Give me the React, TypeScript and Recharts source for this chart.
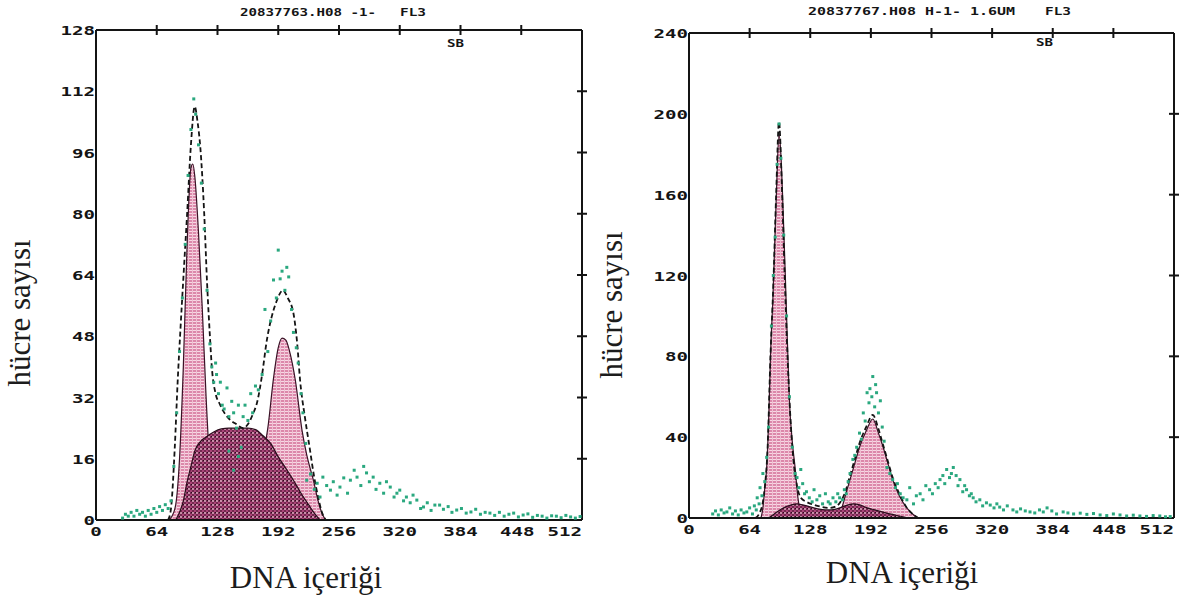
import { ComposedChart, Area, Line, Scatter, XAxis, YAxis } from "recharts";

// [channel, count] pairs
type Pt = [number, number];

const CHANNEL_TICKS = [0, 64, 128, 192, 256, 320, 384, 448, 512];
const LEFT_COUNT_TICKS = [0, 16, 32, 48, 64, 80, 96, 112, 128];
const RIGHT_COUNT_TICKS = [0, 40, 80, 120, 160, 200, 240];

const leftTitle = "20837763.H08 -1-";
const rightTitle = "20837767.H08 H-1- 1.6UM";
const yTitle = "hücre sayısı";
const xTitle = "DNA içeriği";

// ---- left panel (control) ----
const leftG1: Pt[] = [
	[76, 0], [80, 1], [84, 4], [88, 16], [92, 40], [96, 72], [100, 92], [102, 93],
	[104, 90], [108, 75], [112, 55], [116, 32], [120, 14], [124, 4], [128, 0],
];
const leftS: Pt[] = [
	[84, 0], [88, 2], [92, 5], [96, 10], [100, 14], [104, 18], [110, 20.5], [116, 21.7],
	[124, 23], [132, 23.8], [140, 24], [150, 24], [160, 24], [168, 23.6], [176, 22],
	[184, 20], [192, 16.5], [200, 13.5], [208, 10.4], [216, 7], [224, 4], [230, 1.8], [236, 0],
];
const leftG2: Pt[] = [
	[146, 0], [152, 1], [158, 3], [164, 6], [170, 11], [176, 17], [181, 24], [187, 37],
	[192, 45], [196, 47.5], [200, 47], [204, 44], [210, 36.5], [217, 23.5], [222, 17],
	[229, 10.4], [234, 5], [238, 1.8], [242, 0],
];
const leftFit: Pt[] = [
	[76, 0], [79, 3], [83, 19], [86, 36], [89, 50], [92, 63], [96, 80], [100, 98], [104, 108],
	[107, 104], [110, 97], [114, 80], [117, 62], [120, 48], [122, 40], [126, 33], [130, 30.5],
	[134, 28.5], [140, 26.5], [148, 25], [155, 24], [160, 25], [165, 27.5], [170, 31], [175, 38],
	[180, 47], [185, 53], [190, 57], [197, 60], [202, 58], [208, 54], [212, 46], [215, 36.5],
	[220, 27], [225, 19], [230, 11], [234, 6], [238, 2], [242, 0],
];
const leftDots: Pt[] = [
	[28, 0.5], [31, 1.5], [34, 1], [37, 2], [40, 1], [43, 2.5], [46, 1.5], [49, 2], [52, 1],
	[55, 2.5], [58, 1.5], [61, 3], [64, 2], [67, 3.5], [70, 2.5], [73, 4], [76, 3], [79, 5],
	[82, 14], [85, 28], [88, 44], [91, 58], [94, 72], [97, 90], [100, 102], [103, 110],
	[105, 106], [108, 98], [111, 88], [114, 76], [117, 60], [120, 46], [122, 40],
	[124, 36], [126, 41], [127, 38], [129, 33], [131, 36], [133, 30], [135, 29], [138, 34.5],
	[140, 27], [143, 31], [145, 28], [148, 24], [150, 30], [153, 19], [155, 27], [157, 30],
	[160, 26], [163, 33], [165, 28], [168, 35], [171, 34], [175, 38], [178, 55], [181, 44],
	[184, 52], [187, 62.7], [190, 58], [192, 70.5], [194, 63], [196, 65], [199, 60], [201, 66],
	[203, 63.5], [206, 55], [208, 49], [211, 45], [213, 41], [216, 33], [218, 28], [221, 20],
	[140, 18], [150, 16.6], [145, 13],
	[222, 10.4], [226, 12], [230, 8], [233, 9.6], [236, 6], [239, 11.2], [243, 9], [247, 7.8],
	[250, 10], [254, 6.5], [257, 8.6], [261, 11], [265, 7], [268, 10.4], [272, 13], [275, 11.2],
	[279, 9], [282, 14], [285, 12.3], [288, 10], [292, 11.2], [295, 8], [299, 9.6], [303, 7],
	[306, 10], [310, 8.6], [314, 6], [317, 7], [320, 7.8], [324, 5], [327, 6], [331, 4.5],
	[334, 6.5], [338, 5.2], [342, 3], [345, 3.4], [349, 4.5], [353, 2.5], [357, 3.9], [362, 3.9],
	[366, 2.8], [371, 3.5], [375, 2], [380, 2.6], [385, 3], [390, 1.8], [395, 2.1], [400, 2.8],
	[405, 1.5], [410, 2], [415, 1.8], [420, 1.2], [425, 2], [430, 1], [435, 1.5], [440, 1.8],
	[445, 0.8], [450, 1.3], [455, 1.6], [460, 0.7], [465, 1.2], [470, 1], [475, 0.5], [480, 1.1],
	[485, 1], [490, 0.6], [495, 1.2], [500, 0.8], [505, 0.5], [510, 0.9],
];

// ---- right panel (treated) ----
const rightG1: Pt[] = [
	[76, 0], [78, 5], [80, 15], [82, 25], [84.5, 55], [86, 80], [88.5, 108], [92, 157],
	[95, 190], [97, 180], [99, 157], [102.5, 108], [106, 58], [109, 38], [112, 25], [115, 10],
	[118, 2], [120, 0],
];
const rightS: Pt[] = [
	[84, 0], [90, 2], [96, 4], [102, 5.5], [108, 6.5], [114, 7], [120, 6.5], [128, 5.5],
	[136, 4.5], [144, 4], [150, 4], [156, 4.5], [162, 5.5], [168, 6.5], [174, 7], [180, 6.5],
	[188, 5], [196, 4], [204, 3], [212, 2], [222, 1], [232, 0],
];
const rightG2: Pt[] = [
	[156, 0], [160, 3], [165, 11], [170, 19], [175, 27], [180, 35], [187, 43], [194, 49],
	[200, 42], [205, 35], [210, 27], [215, 19], [222, 11], [230, 5], [236, 2], [242, 0],
];
const rightFit: Pt[] = [
	[70, 0], [74, 2], [78, 8], [80, 15], [83, 35], [86, 80], [89, 115], [92, 160], [95, 196],
	[98, 165], [101, 120], [104, 80], [107, 50], [110, 30], [114, 16], [118, 10], [124, 8],
	[132, 6.5], [140, 5.5], [148, 5], [154, 5.5], [160, 8], [165, 13], [170, 21], [175, 29],
	[180, 37], [187, 45], [194, 51], [200, 44], [205, 36], [210, 28], [215, 20], [222, 12],
	[230, 5], [236, 2], [242, 0],
];
const rightDots: Pt[] = [
	[25, 2], [28, 3.5], [31, 1.5], [34, 4], [37, 2.5], [40, 3], [43, 5], [46, 2], [49, 3.5],
	[52, 1.5], [55, 4], [58, 2.5], [61, 3], [64, 5], [67, 2], [69, 6], [71, 4], [72, 10],
	[74, 7], [75, 15], [77, 11], [78, 22], [80, 18],
	[82, 30], [84, 45], [87, 95], [89, 120], [91, 139], [93, 175], [95, 195], [97, 178],
	[100, 140], [103, 100], [106, 60], [109, 35], [112, 22], [114, 20], [116, 15], [118, 24],
	[120, 17], [122, 12], [124, 13],
	[127, 10], [130, 8], [132, 14], [135, 9], [138, 11], [141, 7], [144, 12], [147, 8], [149, 7],
	[152, 10], [155, 8], [157, 12], [159, 10], [162, 9], [164, 14], [166, 12], [168, 18],
	[170, 22], [173, 29], [175, 31], [177, 35], [180, 42], [182, 39], [184, 52], [186, 48],
	[188, 62], [190, 57], [191, 64], [193, 60], [194, 70], [196, 55], [197, 66], [198, 62],
	[200, 52], [202, 58], [204, 45], [206, 38], [209, 25], [212, 22], [215, 19], [218, 15],
	[220, 17], [223, 12], [226, 10], [230, 9], [233, 15], [237, 7], [240, 11], [244, 12],
	[247, 9], [250, 16], [254, 14], [257, 12], [260, 17], [263, 15], [265, 19], [268, 21],
	[270, 17], [272, 24], [275, 20], [277, 22], [279, 25], [282, 21], [284, 16], [286, 19],
	[289, 13], [291, 16], [293, 14], [296, 11], [298, 12], [300, 10], [303, 8], [307, 9],
	[310, 6], [314, 7.5], [318, 6.4], [322, 5], [325, 7], [328, 5.4], [332, 4], [336, 6],
	[342, 4], [346, 3], [350, 4.5], [355, 3.5], [360, 3], [365, 2.5], [370, 4], [374, 3],
	[378, 5], [383, 3.5], [388, 2], [395, 3], [400, 2.5], [406, 2], [413, 2.4], [420, 1.8],
	[427, 2.2], [434, 1.5], [441, 1.2], [448, 2], [455, 1.5], [462, 1], [469, 1.4], [476, 1],
	[483, 0.8], [490, 1.2], [497, 1], [503, 0.6], [508, 0.7],
];

// ---------------------------------------------------------------------------

const MONO = "'DejaVu Sans Mono', monospace";
const SERIF = "'Liberation Serif', 'DejaVu Serif', serif";
const INK = "#141414";
const DOT = "#2aa87f";

const toRows = (pts: Pt[]) => pts.map(([ch, v]) => ({ ch, v }));

function CountTick({ x, y, payload }: any) {
	const s = String(payload.value);
	return (
		<text x={x} y={y} dy={5} textAnchor="end" fontFamily={MONO} fontWeight="bold" fontSize={13}
			fill={INK} textLength={s.length * 11.5} lengthAdjust="spacingAndGlyphs">
			{s}
		</text>
	);
}

function ChannelTick({ x, y, payload }: any) {
	const v = payload.value;
	const s = String(v);
	let anchor: "middle" | "end" = "middle";
	let px = x;
	if (v === 512) anchor = "end";
	if (v === 448) px = x - 4;
	return (
		<text x={px} y={y} dy={16} textAnchor={anchor} fontFamily={MONO} fontWeight="bold" fontSize={13}
			fill={INK} textLength={s.length * 11.5} lengthAdjust="spacingAndGlyphs">
			{s}
		</text>
	);
}

// short marks that cross the frame line (top and right axes)
function TopTick({ x, y, payload }: any) {
	if (payload.value === 0 || payload.value === 512) return <g />;
	return <rect x={x - 1} y={y - 5} width={2} height={10} fill={INK} />;
}

function RightTick({ x, y, payload, maxValue }: any) {
	if (payload.value === 0 || payload.value === maxValue) return <g />;
	return <rect x={x - 5} y={y - 1} width={10} height={2} fill={INK} />;
}

function DotShape({ cx, cy }: any) {
	return <rect x={cx - 1.5} y={cy - 1.5} width={3} height={3} fill={DOT} />;
}

interface PanelProps {
	id: string;
	width: number;
	height: number;
	margin: { top: number; right: number; left: number; bottom: number };
	maxCount: number;
	countTicks: number[];
	g1: Pt[];
	s: Pt[];
	g2: Pt[];
	fit: Pt[];
	dots: Pt[];
}

function Panel({ id, width, height, margin, maxCount, countTicks, g1, s, g2, fit, dots }: PanelProps) {
	const axisLine = { stroke: INK, strokeWidth: 2 };
	return (
		<ComposedChart width={width} height={height} margin={margin}>
			<defs>
				<pattern id={`${id}-pink`} width={4} height={3} patternUnits="userSpaceOnUse">
					<rect width={4} height={3} fill="#dc88aa" />
					<line x1={0} x2={4} y1={0.5} y2={0.5} stroke="#f7d8e4" strokeWidth={1} />
					<line x1={0.5} x2={0.5} y1={0} y2={3} stroke="#efc0d2" strokeWidth={1} />
				</pattern>
				<pattern id={`${id}-dark`} width={4} height={4} patternUnits="userSpaceOnUse">
					<rect width={4} height={4} fill="#74284f" />
					<circle cx={1} cy={1} r={0.9} fill="#f0bfd2" />
					<circle cx={3} cy={3} r={0.9} fill="#c4508a" />
					<rect x={3} y={0} width={1} height={1} fill="#2b0d1c" />
				</pattern>
			</defs>
			<XAxis type="number" dataKey="ch" domain={[0, 512]} ticks={CHANNEL_TICKS} interval={0}
				height={30} tickSize={0} tickMargin={0} tickLine={false} axisLine={axisLine} tick={<ChannelTick />} />
			<XAxis xAxisId="top" orientation="top" type="number" dataKey="ch" domain={[0, 512]}
				ticks={CHANNEL_TICKS} interval={0} height={1} tickSize={0} tickMargin={0} tickLine={false}
				axisLine={axisLine} tick={<TopTick />} />
			<YAxis type="number" domain={[0, maxCount]} ticks={countTicks} interval={0} width={40}
				tickSize={0} tickMargin={1} tickLine={false} axisLine={axisLine} tick={<CountTick />} />
			<YAxis yAxisId="r" orientation="right" type="number" domain={[0, maxCount]} ticks={countTicks}
				interval={0} width={1} tickSize={0} tickMargin={0} tickLine={false} axisLine={axisLine}
				tick={<RightTick maxValue={maxCount} />} />
			<Area data={toRows(g1)} dataKey="v" type="monotone" fill={`url(#${id}-pink)`} fillOpacity={1}
				stroke="#3a1226" strokeWidth={1.2} isAnimationActive={false} />
			<Area data={toRows(g2)} dataKey="v" type="monotone" fill={`url(#${id}-pink)`} fillOpacity={1}
				stroke="#3a1226" strokeWidth={1.2} isAnimationActive={false} />
			<Area data={toRows(s)} dataKey="v" type="monotone" fill={`url(#${id}-dark)`} fillOpacity={1}
				stroke="#2b0d1c" strokeWidth={1.2} isAnimationActive={false} />
			{/* the fit is drawn against the top/right frame axes (same domains) so they get ticks */}
			<Line data={toRows(fit)} dataKey="v" xAxisId="top" yAxisId="r" type="monotone" stroke={INK}
				strokeWidth={1.8} strokeDasharray="5 3" dot={false} activeDot={false} isAnimationActive={false} />
			<Scatter data={toRows(dots)} dataKey="v" shape={<DotShape />} isAnimationActive={false} />
		</ComposedChart>
	);
}

export default function App() {
	const headStyle = { fontFamily: MONO, fontWeight: "bold" as const, fontSize: 11, fill: INK };
	const axisTitle = { fontFamily: SERIF, fontSize: 31, fill: "#1c1c1c" };
	return (
		<div style={{ position: "absolute", left: 0, top: 0, width: 1185, height: 600, background: "#fff" }}>
			<div style={{ position: "absolute", left: 0, top: 0 }}>
				<Panel id="l" width={600} height={560} margin={{ top: 29, right: 17, left: 56, bottom: 10 }}
					maxCount={128} countTicks={LEFT_COUNT_TICKS}
					g1={leftG1} s={leftS} g2={leftG2} fit={leftFit} dots={leftDots} />
			</div>
			<div style={{ position: "absolute", left: 600, top: 0 }}>
				<Panel id="r" width={585} height={560} margin={{ top: 32, right: 10, left: 49, bottom: 12 }}
					maxCount={240} countTicks={RIGHT_COUNT_TICKS}
					g1={rightG1} s={rightS} g2={rightG2} fit={rightFit} dots={rightDots} />
			</div>
			<svg width={1185} height={600} style={{ position: "absolute", left: 0, top: 0, pointerEvents: "none" }}>
				<text x={240} y={16} {...headStyle} textLength={136} lengthAdjust="spacingAndGlyphs">{leftTitle}</text>
				<text x={400} y={16} {...headStyle} textLength={26} lengthAdjust="spacingAndGlyphs">FL3</text>
				<text x={447} y={47} {...headStyle} textLength={17} lengthAdjust="spacingAndGlyphs">SB</text>
				<text x={808} y={15} {...headStyle} textLength={207} lengthAdjust="spacingAndGlyphs">{rightTitle}</text>
				<text x={1045} y={15} {...headStyle} textLength={26} lengthAdjust="spacingAndGlyphs">FL3</text>
				<text x={1036} y={46} {...headStyle} textLength={17} lengthAdjust="spacingAndGlyphs">SB</text>
				<text x={306} y={588} textAnchor="middle" {...axisTitle}>{xTitle}</text>
				<text x={902} y={583} textAnchor="middle" {...axisTitle}>{xTitle}</text>
				<text x={30} y={313} textAnchor="middle" transform="rotate(-90 30 313)" {...axisTitle}>{yTitle}</text>
				<text x={622} y={305} textAnchor="middle" transform="rotate(-90 622 305)" {...axisTitle}>{yTitle}</text>
			</svg>
		</div>
	);
}
